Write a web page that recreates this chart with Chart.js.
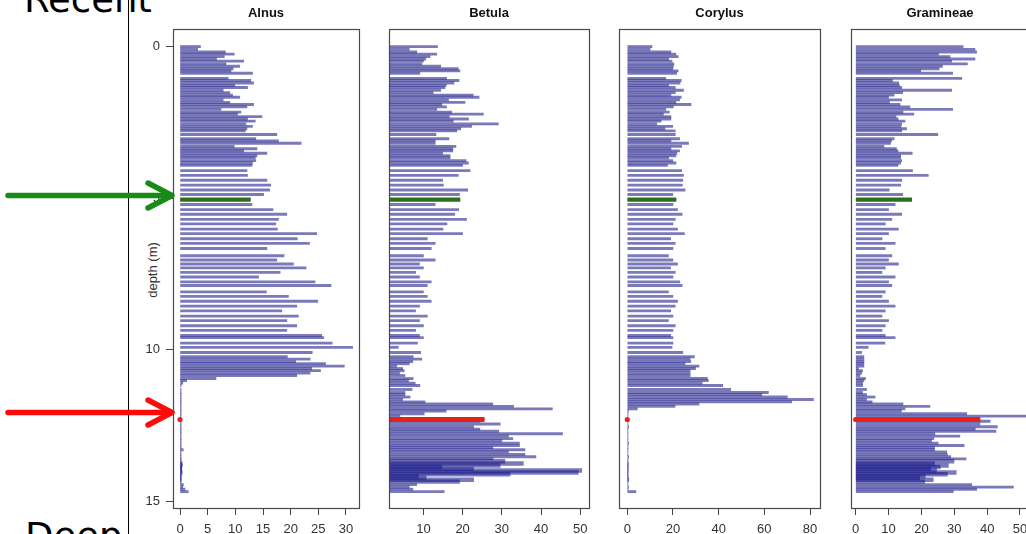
<!DOCTYPE html>
<html>
<head>
<meta charset="utf-8">
<script src="https://cdn.jsdelivr.net/npm/chart.js@4.4.0/dist/chart.umd.min.js"></script>
<style>
  body { margin: 0; width: 1026px; height: 534px; overflow: hidden; background: #fff; position: relative;
         font-family: "Liberation Sans", Arial, sans-serif; }
  .panel { position: absolute; top: 0; }
  .big { position: absolute; font-family: "DejaVu Sans", Verdana, sans-serif; font-size: 37px; line-height: 37px; color: #000; white-space: nowrap; }
  #recent { left: 24px; top: -19px; }
  #deep { left: 25px; top: 518px; }
  #depthLabel { position: absolute; left: 152px; top: 270px; font-size: 13px; color: #333;
                transform: translate(-50%, -50%) rotate(-90deg); white-space: nowrap; }
  #marks { position: absolute; left: 0; top: 0; }
</style>
</head>
<body>
<div class="big" id="recent">Recent</div>
<div class="big" id="deep">Deep</div>
<div id="depthLabel">depth (m)</div>

<canvas class="panel" id="alnus" width="245" height="534" style="left:120px"></canvas>
<canvas class="panel" id="betula" width="230" height="534" style="left:365px"></canvas>
<canvas class="panel" id="corylus" width="232" height="534" style="left:595px"></canvas>
<canvas class="panel" id="gramineae" width="210" height="534" style="left:826px"></canvas>

<svg id="marks" width="1026" height="534">
  <line x1="128.5" y1="0" x2="128.5" y2="534" stroke="#000" stroke-width="1"/>
  <g stroke="#168c16" stroke-width="5.5" fill="none" stroke-linecap="round" stroke-linejoin="round">
    <path d="M8 195.5 H170"/>
    <path d="M148 183 L172 195.5 L148 208"/>
  </g>
  <g stroke="#ff0a0a" stroke-width="5.5" fill="none" stroke-linecap="round" stroke-linejoin="round">
    <path d="M8 412.5 H170"/>
    <path d="M148 400 L172 412.5 L148 425"/>
  </g>
</svg>

<script>
// sample depths (m), shared by all four taxa
const depths = [
  0.00, 0.09, 0.18, 0.25, 0.33, 0.41, 0.48, 0.57, 0.65, 0.73, 0.80, 0.88,
  1.05, 1.12, 1.20, 1.28, 1.35, 1.44, 1.52, 1.60, 1.67, 1.76, 1.84, 1.91, 1.99, 2.07, 2.16, 2.23,
  2.31, 2.39, 2.46, 2.55, 2.63, 2.71, 2.78, 2.90,
  3.04, 3.11, 3.19, 3.29, 3.37, 3.44, 3.52, 3.60, 3.67, 3.76, 3.84, 3.92,
  4.09, 4.25, 4.41, 4.57, 4.73, 4.88, 5.05,
  5.21, 5.38, 5.53, 5.70, 5.85, 6.02, 6.17, 6.34, 6.49, 6.66, 6.90, 7.04, 7.17, 7.30, 7.45,
  7.60, 7.76, 7.88, 8.09, 8.24, 8.40, 8.56, 8.72, 8.89, 9.04, 9.21, 9.36, 9.53, 9.60,
  9.78, 9.92, 10.09, 10.23, 10.31, 10.39, 10.46, 10.54, 10.62, 10.69, 10.77, 10.85, 10.95, 11.02, 11.10,
  11.18, 11.31, 11.41, 11.48, 11.56, 11.64, 11.72, 11.79, 11.87, 11.95, 12.02, 12.11, 12.19,
  12.30,
  12.36, 12.45, 12.54, 12.62, 12.69, 12.77, 12.85, 12.93, 13.00, 13.08, 13.16, 13.23,
  13.30, 13.37, 13.45, 13.53, 13.60, 13.68, 13.75, 13.82, 13.87, 13.93, 13.98, 14.05,
  14.11, 14.17, 14.22, 14.29, 14.35, 14.45, 14.53, 14.60, 14.68
];

// pollen percentages per sample
const alnus = [
  3.7, 3.2, 8.2, 9.8, 8.0, 6.6, 11.5, 8.3, 10.8, 9.6, 9.2, 13.1,
  8.7, 12.8, 13.3, 9.9, 12.2, 7.8, 9.0, 9.5, 10.8, 7.8, 9.0, 13.3, 12.1, 7.4, 11.0, 10.4,
  14.8, 12.2, 13.6, 11.9, 13.1, 12.1, 11.8, 17.5,
  13.7, 17.8, 21.9, 9.8, 13.9, 11.5, 15.7, 13.9, 13.6, 13.7, 13.1, 13.0,
  12.1, 12.2, 15.7, 16.4, 16.2, 15.1, 12.7,
  13.0, 16.8, 19.3, 17.8, 17.3, 17.6, 24.7, 21.2, 23.4, 15.7, 18.8, 17.5, 20.5, 22.8, 18.1,
  14.2, 24.4, 27.3, 15.6, 19.6, 24.9, 21.1, 18.4, 21.4, 19.3, 21.1, 19.3, 25.6, 26.0,
  27.5, 31.2, 23.9, 19.4, 23.5, 20.9, 26.3, 29.7, 23.8, 25.4, 23.5, 21.1, 6.5, 1.2, 0.5,
  0.2, 0.2, 0.2, 0.2, 0.2, 0.2, 0.2, 0.2, 0.2, 0.2, 0.2, 0.2, 0.2,
  0,
  0.2, 0.2, 0.2, 0.2, 0.2, 0.2, 0.2, 0.2, 0.2, 0.2, 0.2, 0.2,
  0.6, 0.2, 0.2, 0.2, 0.2, 0.2, 0.4, 0.4, 0.3, 0.3, 0.3, 0.4,
  0.2, 0.2, 0.2, 0.2, 0.2, 0.6, 0.5, 0.9, 1.5
];
const betula = [
  13.6, 6.4, 8.3, 13.4, 11.7, 10.6, 10.0, 9.6, 14.4, 18.9, 19.3, 9.1,
  15.9, 19.1, 17.8, 15.8, 15.5, 14.4, 12.5, 22.7, 24.2, 16.4, 20.6, 14.7, 15.9, 13.4, 17.2, 25.3,
  16.6, 21.5, 17.6, 29.1, 22.3, 19.5, 18.5, 13.2,
  16.5, 13.0, 13.0, 18.3, 17.5, 17.5, 14.9, 16.8, 16.8, 20.9, 21.5, 20.0,
  21.9, 18.9, 14.9, 15.1, 21.3, 19.2, 19.3,
  13.0, 19.0, 18.0, 21.0, 16.0, 15.0, 20.0, 11.0, 13.0, 12.0, 10.0, 13.0, 9.0, 10.0, 8.0,
  9.0, 12.0, 11.0, 10.0, 11.0, 12.0, 9.0, 8.0, 11.0, 9.0, 10.0, 8.0, 9.0, 10.0,
  8.5, 3.6, 9.3, 7.4, 9.6, 7.3, 6.4, 3.2, 4.7, 5.1, 3.9, 5.3, 7.4, 6.2, 7.9,
  9.1, 7.1, 5.3, 5.3, 6.6, 4.7, 10.4, 27.7, 33.0, 42.9, 15.8, 10.2, 4.0,
  25.5,
  24.4, 29.6, 22.8, 24.4, 29.2, 45.5, 31.7, 32.8, 30.0, 34.5, 34.5, 27.7,
  35.9, 31.7, 35.9, 38.7, 27.8, 30.8, 35.5, 29.6, 14.7, 22.8, 50.4, 49.5,
  32.1, 8.7, 10.7, 22.8, 19.2, 8.3, 6.4, 7.3, 15.3
];
const corylus = [
  10.8, 10.0, 19.1, 21.3, 22.3, 18.1, 19.6, 20.4, 20.2, 19.9, 22.3, 21.6,
  16.9, 23.6, 23.1, 18.1, 21.0, 24.6, 21.0, 19.1, 23.6, 22.9, 21.3, 27.9, 20.2, 16.8, 18.4, 15.8,
  19.1, 19.1, 14.8, 12.9, 19.9, 16.5, 21.0, 21.0,
  22.9, 19.1, 26.8, 23.8, 19.1, 22.9, 21.7, 21.3, 18.1, 19.9, 21.3, 17.6,
  23.8, 24.6, 24.3, 24.1, 25.3, 19.9, 21.3,
  20.0, 22.0, 24.0, 21.0, 20.0, 22.0, 25.0, 19.0, 21.0, 20.0, 18.0, 20.0, 22.0, 19.0, 21.0,
  20.0, 23.0, 24.0, 18.0, 20.0, 22.0, 21.0, 19.0, 20.0, 18.0, 21.0, 20.0, 19.0, 20.0,
  20.0, 19.6, 24.3, 29.4, 27.5, 27.8, 25.3, 31.4, 29.9, 27.5, 27.5, 27.5, 35.1, 35.5, 32.8,
  41.8, 45.3, 61.8, 58.9, 70.1, 81.5, 72.0, 31.4, 20.9, 4.4, 0.5, 0.3, 0.3,
  0,
  0.3, 0.3, 0.6, 0.3, 0.3, 0.3, 0.3, 0.3, 0.3, 0.6, 0.3, 0.3,
  0.3, 0.3, 0.3, 0.6, 0.3, 0.3, 0.4, 0.4, 0.3, 0.3, 0.4, 0.3,
  0.3, 0.3, 0.3, 0.6, 0.3, 0.3, 0.6, 0.3, 3.8
];
const gramineae = [
  32.7, 36.3, 36.8, 25.2, 28.7, 36.3, 29.2, 34.0, 26.4, 25.4, 19.8, 29.5,
  32.3, 11.2, 13.1, 13.3, 14.0, 29.2, 14.3, 11.7, 10.0, 14.0, 10.3, 13.5, 16.5, 29.5, 14.4, 17.7,
  12.3, 12.9, 15.0, 14.0, 13.8, 15.5, 14.0, 25.0,
  11.7, 10.9, 10.6, 8.6, 12.4, 12.9, 17.2, 13.7, 13.7, 14.0, 13.7, 12.9,
  17.3, 22.1, 14.0, 13.7, 10.2, 14.3, 17.0,
  12.0, 10.0, 14.0, 11.0, 9.0, 13.0, 10.0, 8.0, 12.0, 9.0, 11.0, 10.0, 13.0, 9.0, 8.0,
  12.0, 10.0, 11.0, 9.0, 8.0, 10.0, 12.0, 9.0, 8.0, 10.0, 9.0, 8.0, 9.0, 12.0,
  8.9, 3.8, 1.8, 2.5, 2.5, 2.5, 2.5, 2.5, 0.8, 2.1, 1.8, 1.3, 3.0, 2.5, 2.1,
  2.1, 3.3, 2.1, 3.3, 5.9, 3.3, 5.0, 14.4, 22.6, 15.0, 13.9, 33.8, 55.0,
  37.8,
  40.9, 37.8, 43.1, 36.4, 42.7, 24.1, 31.7, 23.8, 23.1, 25.1, 33.0, 24.0,
  24.0, 27.7, 27.9, 28.9, 33.6, 29.9, 24.0, 28.2, 25.7, 22.8, 24.6, 30.6,
  27.9, 21.2, 19.5, 23.6, 21.0, 35.3, 48.0, 36.8, 29.7
];

// tick labels
const depthTicks = [0, 5, 10, 15];
const alnusTicks = [0, 5, 10, 15, 20, 25, 30];
const betulaTicks = [10, 20, 30, 40, 50];
const corylusTicks = [0, 20, 40, 60, 80];
const gramineaeTicks = [0, 10, 20, 30, 40, 50];

// highlighted samples
const greenDepth = 5.05;
const redDepth = 12.30;
// closely spaced samples near the base, drawn as a thicker band
const denseTop = 13.65;
const denseBottom = 14.40;

const barColor = 'rgba(26, 26, 138, 0.58)';

Chart.defaults.font.family = '"Liberation Sans", Arial, sans-serif';
Chart.defaults.color = '#333';

// box around the plot area and the taxon name above it
const panelFrame = {
  id: 'panelFrame',
  afterDraw(chart, args, opts) {
    const { ctx, chartArea: a } = chart;
    ctx.save();
    ctx.strokeStyle = '#4a4a4a';
    ctx.lineWidth = 1.2;
    ctx.strokeRect(Math.round(a.left) + 0.5, Math.round(a.top) + 0.5,
                   Math.round(a.right - a.left), Math.round(a.bottom - a.top));
    ctx.fillStyle = '#111';
    ctx.font = 'bold 13px "Liberation Sans", Arial, sans-serif';
    ctx.textAlign = 'center';
    ctx.textBaseline = 'middle';
    ctx.fillText(opts.title, (a.left + a.right) / 2, 13);
    ctx.restore();
  }
};

function makePanel(id, name, values, xTicks, xMin, xMax, pad, showDepth) {
  const rows = depths.map((d, i) => ({ x: values[i], y: d }));
  const at = d => rows.filter(r => r.y === d);
  const dense = r => r.y >= denseTop && r.y <= denseBottom;

  new Chart(document.getElementById(id), {
    type: 'bar',
    data: {
      datasets: [
        { data: rows.filter(r => !dense(r)), backgroundColor: barColor, barThickness: 2.2, grouped: false, clip: 0, order: 5 },
        { data: rows.filter(dense), backgroundColor: barColor, barThickness: 3.8, grouped: false, clip: 0, order: 4 },
        { data: at(greenDepth), backgroundColor: '#2c6e1f', barThickness: 3.6, grouped: false, clip: 0, order: 3 },
        { data: at(redDepth), backgroundColor: '#e8201c', barThickness: 4.4, grouped: false, clip: 0, order: 2 },
        { type: 'scatter', data: at(redDepth).map(r => ({ x: 0, y: r.y })), pointRadius: 2.6,
          backgroundColor: '#e8201c', borderWidth: 0, clip: 0, order: 1 }
      ]
    },
    options: {
      indexAxis: 'y',
      responsive: false,
      animation: false,
      events: [],
      layout: { padding: { top: 29, left: pad[0], right: pad[1], bottom: 0 } },
      plugins: { legend: { display: false }, tooltip: { enabled: false }, panelFrame: { title: name } },
      scales: {
        x: {
          type: 'linear', min: xMin, max: xMax,
          afterBuildTicks: s => { s.ticks = xTicks.map(v => ({ value: v })); },
          afterFit: s => { s.height = 26; },
          grid: { drawOnChartArea: false, tickLength: 7, color: '#444' },
          border: { display: false },
          ticks: { font: { size: 13 }, color: '#333', padding: 7, maxRotation: 0, autoSkip: false }
        },
        y: {
          type: 'linear', reverse: true, min: -0.58, max: 15.22,
          offset: false,
          display: showDepth,
          afterBuildTicks: s => { s.ticks = depthTicks.map(v => ({ value: v })); },
          afterFit: s => { s.width = showDepth ? 53 : 0; },
          grid: { offset: false, drawOnChartArea: false, tickLength: 7, color: '#444' },
          border: { display: false },
          ticks: { font: { size: 13 }, color: '#333', padding: 6 }
        }
      }
    },
    plugins: [panelFrame]
  });
}

makePanel('alnus', 'Alnus', alnus, alnusTicks, -1.27, 32.35, [0, 6], true);
makePanel('betula', 'Betula', betula, betulaTicks, 1.22, 52.24, [24, 6], false);
makePanel('corylus', 'Corylus', corylus, corylusTicks, -3.63, 84.37, [24, 7], false);
makePanel('gramineae', 'Gramineae', gramineae, gramineaeTicks, -1.43, 52.74, [25, 7], false);
</script>
</body>
</html>
